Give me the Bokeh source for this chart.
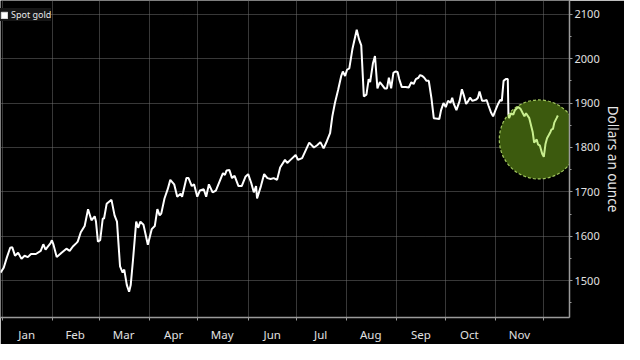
import pandas as pd
from bokeh.plotting import figure
from bokeh.models import (FixedTicker, SingleIntervalTicker, DatetimeTickFormatter,
                          Legend, LegendItem, Range1d)
from bokeh.embed import file_html
from bokeh.resources import INLINE

# ---------------- data ----------------
base_date = "2020-01-01"
# days after 2020-01-01, spot gold in $/oz
days_white = [-1.2, 0.8, 2.8, 4.8, 6.1, 7.8, 9.7, 11.8, 13.7, 15.7,
              17.7, 20.7, 23.7, 25.3, 26.7, 28.2, 29.7, 30.6, 31.6, 33.6,
              36.6, 39.6, 41.6, 43.6, 45.6, 46.6, 48.5, 50.9, 53.0, 55.1,
              57.1, 57.9, 59.1, 60.5, 62.1, 62.9, 64.5, 67.5, 69.4, 70.9,
              72.8, 74.4, 75.4, 77.0, 78.4, 79.4, 80.8, 82.8, 84.0, 85.4,
              87.3, 90.0, 92.4, 94.3, 95.9, 97.3, 98.3, 100.3, 102.3, 103.9,
              106.3, 108.2, 110.3, 111.2, 113.9, 115.2, 117.2, 118.6, 120.6, 122.2,
              124.6, 126.1, 127.8, 130.1, 132.1, 136.5, 137.7, 138.7, 140.5, 142.1,
              143.7, 146.1, 148.1, 150.4, 152.1, 154.0, 155.6, 157.0, 157.6, 160.0,
              162.0, 164.0, 166.0, 167.9, 170.0, 171.9, 174.9, 176.3, 178.3, 181.5,
              182.9, 185.5, 189.9, 192.8, 194.8, 196.8, 198.8, 200.8, 202.8, 204.2,
              205.8, 207.8, 209.7, 210.7, 212.1, 213.3, 214.7, 216.7, 219.3, 220.7,
              222.1, 223.7, 225.3, 226.7, 227.6, 229.3, 230.6, 232.1, 233.6, 235.2,
              236.6, 238.0, 239.2, 240.6, 242.0, 243.2, 244.6, 245.6, 247.2, 249.6,
              251.5, 253.1, 254.5, 255.9, 257.5, 258.5, 259.9, 261.1, 262.5, 263.9,
              265.5, 267.0, 268.5, 270.4, 271.5, 273.0, 274.4, 275.8, 277.4, 278.4,
              279.4, 281.0, 283.0, 284.4, 285.8, 287.0, 288.4, 289.4, 290.9, 293.3,
              294.3, 295.3, 296.9, 298.3, 299.7, 300.9, 302.3, 303.7, 305.2, 306.8,
              308.1, 309.1, 310.2, 311.6, 312.8, 313.2]
prices_white = [1518, 1529, 1553, 1574, 1575, 1556, 1563, 1549, 1556, 1553,
                1560, 1560, 1567, 1582, 1570, 1577, 1584, 1591, 1581, 1553,
                1563, 1572, 1567, 1577, 1584, 1588, 1609, 1623, 1661, 1636,
                1645, 1633, 1588, 1591, 1640, 1640, 1673, 1682, 1647, 1633,
                1532, 1518, 1525, 1490, 1475, 1490, 1546, 1633, 1619, 1633,
                1626, 1581, 1616, 1623, 1661, 1647, 1651, 1685, 1706, 1727,
                1717, 1689, 1696, 1689, 1731, 1731, 1713, 1717, 1689, 1703,
                1706, 1689, 1717, 1699, 1703, 1742, 1738, 1748, 1749, 1731,
                1736, 1713, 1713, 1734, 1740, 1720, 1699, 1713, 1685, 1713,
                1740, 1731, 1729, 1731, 1727, 1755, 1772, 1765, 1772, 1783,
                1772, 1776, 1811, 1800, 1805, 1812, 1798, 1814, 1832, 1870,
                1900, 1930, 1961, 1971, 1961, 1975, 1978, 2023, 2065, 2044,
                2030, 1915, 1919, 1954, 1947, 1989, 2006, 1933, 1947, 1940,
                1933, 1933, 1957, 1933, 1968, 1971, 1970, 1954, 1936, 1936,
                1935, 1947, 1943, 1954, 1957, 1963, 1961, 1957, 1950, 1950,
                1912, 1866, 1865, 1864, 1884, 1900, 1891, 1905, 1901, 1912,
                1898, 1884, 1905, 1931, 1915, 1898, 1905, 1912, 1905, 1908,
                1912, 1926, 1905, 1905, 1907, 1894, 1880, 1870, 1884, 1898,
                1907, 1905, 1950, 1954, 1954, 1874]
days_green = [313.2, 313.6, 314.8, 316.2, 317.2, 319.2, 320.7, 322.1, 323.1, 324.1,
              326.1, 328.2, 329.1, 330.7, 331.5, 332.7, 334.1, 335.1, 336.1, 337.1,
              338.2, 339.2, 339.8, 340.8, 341.6, 343.0, 343.8]
prices_green = [1874, 1866, 1877, 1874, 1884, 1891, 1887, 1877, 1870, 1877,
                1866, 1835, 1811, 1818, 1807, 1804, 1786, 1779, 1807, 1821,
                1828, 1835, 1840, 1842, 1856, 1866, 1872]

highlight_day = [332.0]
highlight_price = [1818]

month_labels = ["Jan", "Feb", "Mar", "Apr", "May", "Jun",
                "Jul", "Aug", "Sep", "Oct", "Nov"]
month_starts = ["2020-01-01", "2020-02-01", "2020-03-01", "2020-04-01",
                "2020-05-01", "2020-06-01", "2020-07-01", "2020-08-01",
                "2020-09-01", "2020-10-01", "2020-11-01", "2020-12-01"]
month_mids = ["2020-01-16", "2020-02-15", "2020-03-16", "2020-04-16",
              "2020-05-16", "2020-06-16", "2020-07-16", "2020-08-16",
              "2020-09-16", "2020-10-16", "2020-11-16"]
x_view = [-1.2, 351.0]
y_view = [1417, 2131]
legend_label = "Spot gold"
y_title = "Dollars an ounce"

# ---------------- build ----------------
t0 = pd.Timestamp(base_date)
def to_dt(days):
    return t0 + pd.to_timedelta(days, unit="D")

def ms(s):
    return int(pd.Timestamp(s).value // 10**6)

xw = to_dt(days_white)
xg = to_dt(days_green)
xh = to_dt(highlight_day)

FONT = "Noto Sans"

p = figure(width=624, height=344, x_axis_type="datetime", y_axis_location="right",
           x_range=Range1d(to_dt([x_view[0]])[0], to_dt([x_view[1]])[0]),
           y_range=Range1d(y_view[0], y_view[1]),
           output_backend="svg", toolbar_location=None,
           background_fill_color="#000000", border_fill_color="#000000",
           outline_line_color=None,
           min_border_left=0, min_border_top=0, min_border_right=0, min_border_bottom=0)

# grids
p.xgrid.ticker = FixedTicker(ticks=[ms(s) for s in month_starts])
for g in (p.xgrid, p.ygrid):
    g.grid_line_color = "#707070"
    g.grid_line_dash = "1 1"
    g.grid_line_width = 1

# x axis
xa = p.xaxis[0]
xa.ticker = FixedTicker(ticks=[ms(s) for s in month_mids],
                        minor_ticks=[ms(s) for s in month_starts])
xa.formatter = DatetimeTickFormatter(days="%b", months="%b", years="%b")
xa.major_label_overrides = {ms(s): lab for s, lab in zip(month_mids, month_labels)}
xa.major_tick_line_color = None
xa.minor_tick_line_color = "#9a9a9a"
xa.minor_tick_in = 0
xa.minor_tick_out = 3
xa.axis_line_color = "#9a9a9a"
xa.axis_line_width = 1.5
xa.major_label_text_color = "#e0e0e0"
xa.major_label_text_font = FONT
xa.major_label_text_font_size = "11.5px"
xa.major_label_standoff = 3

# y axis (right)
ya = p.yaxis[0]
ya.ticker = SingleIntervalTicker(interval=100, num_minor_ticks=2)
ya.axis_line_color = "#9a9a9a"
ya.axis_line_width = 1.5
ya.major_tick_line_color = "#9a9a9a"
ya.major_tick_in = 0
ya.major_tick_out = 3
ya.minor_tick_line_color = "#9a9a9a"
ya.minor_tick_in = 0
ya.minor_tick_out = 2
ya.major_label_text_color = "#e0e0e0"
ya.major_label_text_font = FONT
ya.major_label_text_font_size = "11px"
ya.major_label_standoff = 2
ya.axis_label = y_title
ya.axis_label_text_color = "#e8e8e8"
ya.axis_label_text_font = FONT
ya.axis_label_text_font_size = "13.5px"
ya.axis_label_text_font_style = "normal"
ya.axis_label_standoff = 1

# highlight circle
p.scatter(x=xh, y=highlight_price, marker="circle", size=79,
          fill_color="#3c5a0e", fill_alpha=1.0,
          line_color="#a3c95e", line_dash="3 2", line_width=1.2)

# series
p.line(xw, prices_white, line_color="#ffffff", line_width=2)
p.line(xg, prices_green, line_color="#c8ee8e", line_width=2)

# legend swatch renderer (a single box placed far below the visible range)
r_leg = p.quad(left=to_dt([0.0]), right=to_dt([1.0]), top=[1001], bottom=[1000],
               fill_color="#ffffff", line_color="#dddddd")
legend = Legend(items=[LegendItem(label=legend_label, renderers=[r_leg])],
                location=(0, 296), orientation="vertical",
                background_fill_color="#161616", background_fill_alpha=1.0,
                border_line_color=None,
                label_text_color="#e8e8e8", label_text_font=FONT,
                label_text_font_size="9px", label_height=10,
                glyph_width=8, glyph_height=8, label_standoff=3,
                padding=4, spacing=0, margin=0)
p.add_layout(legend)

html = file_html(p, INLINE)
html = html.replace("<body>", '<body style="background-color:#000000;">', 1)
open("out.html", "w").write(html)
